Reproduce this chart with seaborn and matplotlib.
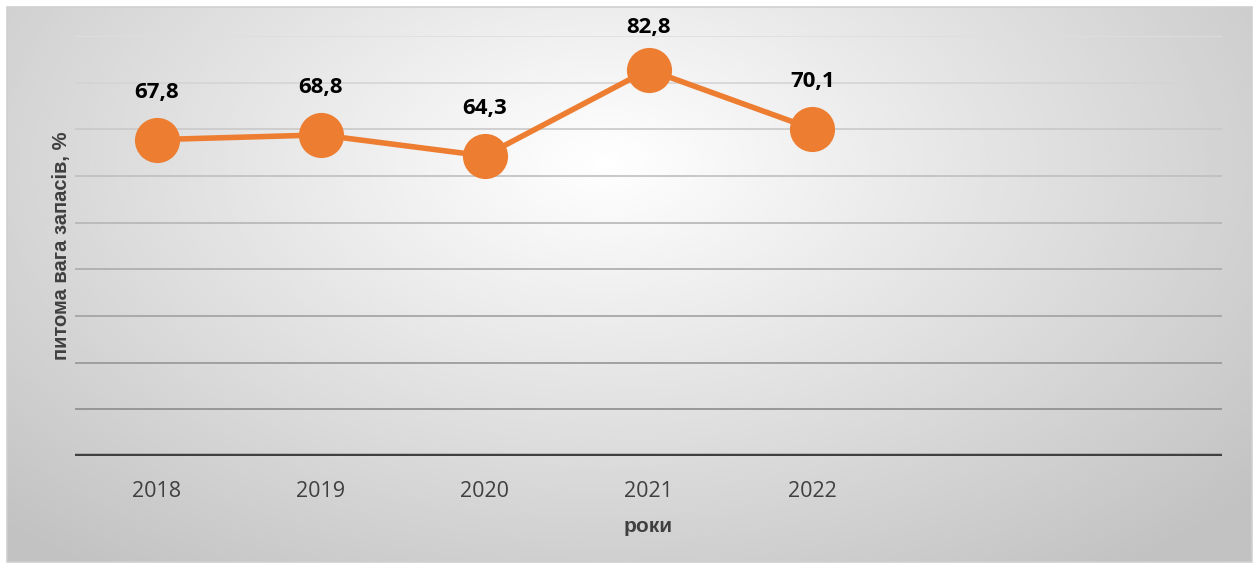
import numpy as np
import pandas as pd
import seaborn as sns
import matplotlib.pyplot as plt
from matplotlib.patches import Rectangle

# Data
years = ["2018", "2019", "2020", "2021", "2022"]
values = [67.8, 68.8, 64.3, 82.8, 70.1]
n_slots = 7  # category axis leaves room for two empty years

df = pd.DataFrame({"pos": np.arange(len(years)), "year": years, "value": values})

sns.set_theme(style="white")
plt.rcParams["font.family"] = ["Open Sans", "DejaVu Sans"]

fig = plt.figure(figsize=(12.56, 5.66), dpi=100)

# radial gradient background of the chart frame
bg = fig.add_axes([7 / 1256, 1 - 562 / 566, 1245 / 1256, 555 / 566], zorder=0)
yy, xx = np.mgrid[0:1:300j, 0:1:700j]
r = np.sqrt(((xx - 0.48) / 0.75) ** 2 + ((yy - 0.28) / 1.0) ** 2)
shade = np.clip(1.0 - 0.26 * r, 0.76, 1.0)
bg.imshow(shade, cmap="gray", vmin=0, vmax=1, aspect="auto",
          extent=(0, 1, 1, 0), interpolation="bicubic")
bg.set_xlim(0, 1)
bg.set_ylim(1, 0)
bg.axis("off")
fig.patches.append(Rectangle((7 / 1256, 1 - 562 / 566), 1245 / 1256, 555 / 566,
                             transform=fig.transFigure, fill=False,
                             edgecolor="#d0d0d0", linewidth=1.2, zorder=5))

ax = fig.add_axes([75 / 1256, 1 - 456 / 566, 1147 / 1256, 420 / 566], zorder=2)
ax.patch.set_alpha(0)

# gridlines, lighter at the top
for lvl in range(10, 91, 10):
    g = 0.55 + 0.32 * (lvl - 10) / 80
    ax.axhline(lvl, color=(g, g, g), linewidth=1.2, zorder=1)
ax.axhline(0, color="#404040", linewidth=3.2, zorder=2)

sns.lineplot(data=df, x="pos", y="value", ax=ax, color="#ED7D31",
             linewidth=4, marker="o", markersize=32.5, markeredgewidth=0,
             zorder=3)

for p, v in zip(df["pos"], df["value"]):
    off = 30 if v > 80 else 34  # top label is squeezed under the frame
    ax.annotate(f"{v:.1f}".replace(".", ","), (p, v), xytext=(0, off),
                textcoords="offset points", ha="center", va="center",
                fontsize=16, fontweight="bold", color="black", annotation_clip=False)

ax.set_xlim(-0.5, n_slots - 0.5)
ax.set_ylim(0, 90)
ax.set_xticks(df["pos"])
ax.set_xticklabels(years, fontsize=15.5, color="#404040")
ax.set_yticks([])
ax.tick_params(axis="x", length=0, pad=18)
for s in ax.spines.values():
    s.set_visible(False)

lab_font = ["Liberation Sans", "DejaVu Sans"]
ax.set_xlabel("роки", fontsize=15, fontweight="bold", color="#404040",
              labelpad=11, family=lab_font)
ax.set_ylabel("питома вага запасів, %", fontsize=14.5, fontweight="bold",
              color="#404040", labelpad=3, family=lab_font)

fig.savefig("out.png", dpi=100)
